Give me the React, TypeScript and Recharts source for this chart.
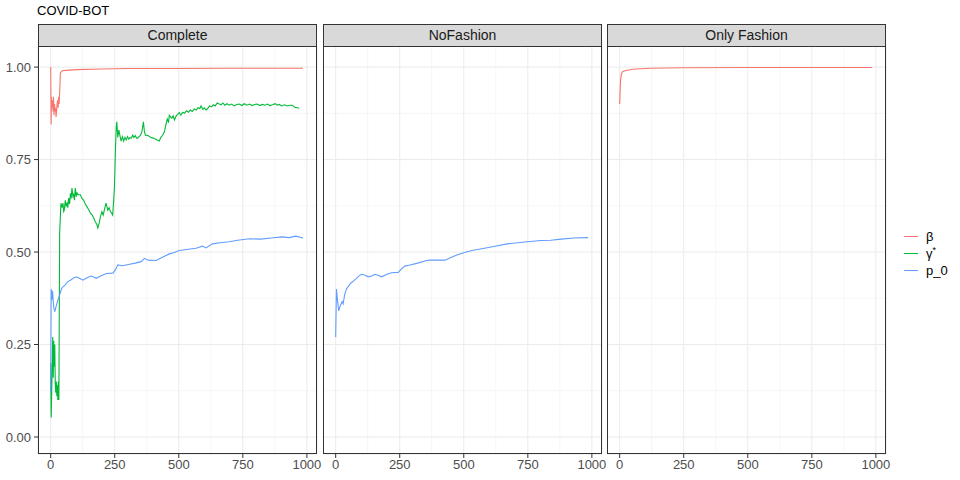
import { LineChart, Line, XAxis, YAxis, CartesianGrid } from "recharts";

// Complete panel
const completeBetaX = [0, 2, 3, 5, 7, 9, 11, 13, 15, 17, 19, 21, 23, 25, 27, 29, 31, 33, 35, 38, 45, 60, 100, 200, 300, 500, 700, 985];
const completeBetaY = [1.0, 0.845, 0.92, 0.89, 0.91, 0.88, 0.92, 0.87, 0.9, 0.88, 0.89, 0.865, 0.88, 0.9, 0.91, 0.89, 0.92, 0.9, 0.93, 0.985, 0.99, 0.991, 0.993, 0.995, 0.996, 0.996, 0.997, 0.997];

const completeGammaX = [0, 2, 4, 6, 8, 10, 12, 14, 16, 18, 20, 22, 24, 26, 28, 30, 32, 35, 38, 40, 44, 48, 51, 53, 57, 60, 64, 67, 70, 74, 77, 80, 83, 87, 90, 93, 96, 100, 103, 108, 116, 122, 129, 135, 142, 148, 155, 162, 168, 174, 180, 184, 190, 194, 200, 205, 210, 216, 223, 228, 233, 238, 242, 246, 249, 253, 256, 258, 262, 266, 270, 275, 280, 285, 290, 295, 300, 305, 310, 315, 320, 325, 330, 335, 339, 345, 350, 356, 362, 366, 370, 380, 390, 400, 410, 418, 424, 430, 436, 444, 450, 455, 460, 463, 468, 473, 478, 483, 490, 496, 502, 508, 515, 522, 530, 538, 545, 553, 560, 568, 575, 582, 587, 594, 600, 606, 613, 620, 628, 635, 642, 650, 658, 665, 672, 680, 688, 697, 706, 716, 726, 736, 746, 756, 766, 776, 786, 796, 806, 816, 826, 836, 846, 856, 866, 876, 886, 892, 902, 912, 923, 933, 943, 950, 956, 962, 970, 978, 985];
const completeGammaY = [0.2, 0.053, 0.12, 0.2, 0.27, 0.16, 0.26, 0.19, 0.25, 0.14, 0.12, 0.15, 0.11, 0.14, 0.1, 0.15, 0.1, 0.55, 0.6, 0.632, 0.62, 0.632, 0.61, 0.613, 0.64, 0.625, 0.632, 0.62, 0.646, 0.63, 0.659, 0.645, 0.673, 0.65, 0.655, 0.64, 0.673, 0.65, 0.66, 0.655, 0.655, 0.645, 0.64, 0.63, 0.622, 0.615, 0.605, 0.6, 0.592, 0.582, 0.575, 0.565, 0.58, 0.595, 0.609, 0.6, 0.615, 0.632, 0.613, 0.62, 0.61, 0.605, 0.6, 0.64, 0.677, 0.78, 0.84, 0.852, 0.81, 0.83, 0.816, 0.8, 0.812, 0.8, 0.81, 0.803, 0.812, 0.805, 0.81, 0.808, 0.816, 0.81, 0.815, 0.808, 0.808, 0.812, 0.815, 0.825, 0.852, 0.825, 0.816, 0.815, 0.81, 0.808, 0.805, 0.802, 0.8, 0.81, 0.815, 0.825, 0.845, 0.86, 0.85, 0.87, 0.865, 0.862, 0.868, 0.857, 0.868, 0.872, 0.877, 0.87, 0.878, 0.875, 0.882, 0.878, 0.884, 0.88, 0.887, 0.884, 0.89, 0.888, 0.895, 0.886, 0.89, 0.884, 0.888, 0.895, 0.893, 0.898, 0.895, 0.903, 0.9, 0.898, 0.903, 0.897, 0.901, 0.897, 0.9, 0.895, 0.899, 0.9, 0.896, 0.901, 0.897, 0.9, 0.896, 0.899, 0.9, 0.896, 0.899, 0.897, 0.9, 0.896, 0.898, 0.901, 0.897, 0.899, 0.895, 0.898, 0.895, 0.897, 0.897, 0.893, 0.891, 0.89, 0.889];

const completeP0X = [0, 2, 4, 7, 12, 16, 22, 28, 35, 42, 48, 55, 67, 80, 90, 100, 110, 126, 140, 158, 170, 178, 195, 217, 243, 255, 262, 280, 308, 330, 353, 366, 380, 412, 440, 463, 480, 502, 530, 567, 592, 606, 631, 660, 697, 730, 775, 820, 860, 903, 930, 957, 985];
const completeP0Y = [0.12, 0.4, 0.37, 0.395, 0.35, 0.339, 0.355, 0.37, 0.384, 0.4, 0.406, 0.41, 0.42, 0.425, 0.43, 0.433, 0.43, 0.424, 0.43, 0.435, 0.432, 0.429, 0.435, 0.442, 0.443, 0.455, 0.465, 0.463, 0.467, 0.47, 0.474, 0.483, 0.478, 0.477, 0.487, 0.495, 0.498, 0.504, 0.507, 0.51, 0.516, 0.511, 0.522, 0.525, 0.528, 0.532, 0.536, 0.535, 0.538, 0.541, 0.539, 0.543, 0.538];

// NoFashion panel
const noFashionP0X = [0, 3, 7, 12, 18, 25, 29, 35, 42, 50, 61, 70, 81, 90, 101, 115, 127, 140, 153, 165, 179, 200, 218, 244, 258, 270, 290, 320, 355, 368, 400, 427, 450, 473, 500, 532, 570, 617, 669, 710, 748, 800, 839, 880, 930, 985];
const noFashionP0Y = [0.27, 0.4, 0.37, 0.341, 0.355, 0.366, 0.36, 0.385, 0.4, 0.408, 0.417, 0.422, 0.429, 0.435, 0.44, 0.437, 0.433, 0.435, 0.44, 0.437, 0.433, 0.44, 0.444, 0.445, 0.455, 0.462, 0.465, 0.47, 0.477, 0.478, 0.478, 0.478, 0.485, 0.492, 0.498, 0.504, 0.509, 0.515, 0.522, 0.525, 0.528, 0.531, 0.532, 0.535, 0.538, 0.539];

// Only Fashion panel
const onlyFashionBetaX = [0, 3, 6, 10, 20, 50, 117, 250, 500, 985];
const onlyFashionBetaY = [0.9, 0.96, 0.978, 0.987, 0.99, 0.994, 0.997, 0.998, 0.999, 0.999];

const xMajor = [0, 250, 500, 750, 1000];
const xMinor = [125, 375, 625, 875];
const yMajor = [0, 0.25, 0.5, 0.75, 1];
const yMinor = [0.125, 0.375, 0.625, 0.875];

const xDomain = [-49.5, 1039.5];
const yDomain = [-0.046, 1.057];

const colBeta = "#F8766D";
const colGamma = "#00BA38";
const colP0 = "#619CFF";

const font = '"Liberation Sans", Arial, sans-serif';

const toPoints = (xs: number[], ys: number[]) => xs.map((x, i) => ({ x, y: ys[i] }));

type Series = { xs: number[]; ys: number[]; color: string; name: string };

const PLOT_TOP = 46;
const PLOT_H = 408;
const XAXIS_H = 26;
const YAXIS_W = 38;
const RIGHT_PAD = 16;

function Panel({ left, width, title, showY, series }: { left: number; width: number; title: string; showY: boolean; series: Series[] }) {
  const chartLeft = showY ? left - YAXIS_W : left;
  const chartW = (showY ? width + YAXIS_W : width) + RIGHT_PAD;
  return (
    <>
      <div
        style={{
          position: "absolute",
          left,
          top: 24,
          width,
          height: 23,
          boxSizing: "border-box",
          background: "#D9D9D9",
          border: "1px solid #333333",
          textAlign: "center",
          lineHeight: "21px",
          fontSize: 14,
          color: "#1A1A1A",
        }}
      >
        {title}
      </div>
      <div style={{ position: "absolute", left: chartLeft, top: PLOT_TOP }}>
        <LineChart width={chartW} height={PLOT_H + XAXIS_H} margin={{ top: 0, right: RIGHT_PAD, bottom: 0, left: 0 }}>
          <XAxis xAxisId="minor" type="number" dataKey="x" domain={xDomain} ticks={xMinor} allowDataOverflow hide />
          <YAxis yAxisId="minor" type="number" domain={yDomain} ticks={yMinor} allowDataOverflow hide />
          <CartesianGrid xAxisId="minor" yAxisId="minor" stroke="#F0F0F0" strokeWidth={0.6} />
          <CartesianGrid stroke="#EBEBEB" strokeWidth={1} />
          <XAxis
            type="number"
            dataKey="x"
            domain={xDomain}
            ticks={xMajor}
            interval={0}
            allowDataOverflow
            height={XAXIS_H}
            axisLine={false}
            tickSize={4}
            tickMargin={2}
            tickLine={{ stroke: "#333333" }}
            tick={{ fill: "#4D4D4D", fontSize: 13, fontFamily: font }}
          />
          <YAxis
            type="number"
            domain={yDomain}
            ticks={yMajor}
            interval={0}
            allowDataOverflow
            width={YAXIS_W}
            hide={!showY}
            axisLine={false}
            tickSize={4}
            tickMargin={3}
            tickLine={{ stroke: "#333333" }}
            tick={{ fill: "#4D4D4D", fontSize: 13, fontFamily: font }}
            tickFormatter={(v: number) => v.toFixed(2)}
          />
          {series.map((s) => (
            <Line
              key={s.name}
              data={toPoints(s.xs, s.ys)}
              dataKey="y"
              type="linear"
              stroke={s.color}
              strokeWidth={1.1}
              dot={false}
              activeDot={false}
              isAnimationActive={false}
            />
          ))}
        </LineChart>
      </div>
      <div
        style={{
          position: "absolute",
          left,
          top: PLOT_TOP,
          width,
          height: PLOT_H,
          boxSizing: "border-box",
          border: "1px solid #333333",
          pointerEvents: "none",
        }}
      />
    </>
  );
}

function LegendRow({ color, children }: { color: string; children: React.ReactNode }) {
  return (
    <div style={{ height: 17, display: "flex", alignItems: "center" }}>
      <div style={{ width: 14, height: 1.2, background: color, marginRight: 8 }} />
      <span style={{ fontSize: 13, color: "#000" }}>{children}</span>
    </div>
  );
}

export default function App() {
  return (
    <div style={{ position: "absolute", left: 0, top: 0, width: 960, height: 480, background: "#fff", fontFamily: font }}>
      <div style={{ position: "absolute", left: 37, top: 3, fontSize: 13, color: "#000" }}>COVID-BOT</div>
      <Panel
        left={38}
        width={279}
        title="Complete"
        showY
        series={[
          { xs: completeBetaX, ys: completeBetaY, color: colBeta, name: "beta" },
          { xs: completeGammaX, ys: completeGammaY, color: colGamma, name: "gamma" },
          { xs: completeP0X, ys: completeP0Y, color: colP0, name: "p0" },
        ]}
      />
      <Panel
        left={323}
        width={279}
        title="NoFashion"
        showY={false}
        series={[{ xs: noFashionP0X, ys: noFashionP0Y, color: colP0, name: "p0" }]}
      />
      <Panel
        left={607}
        width={279}
        title="Only Fashion"
        showY={false}
        series={[{ xs: onlyFashionBetaX, ys: onlyFashionBetaY, color: colBeta, name: "beta" }]}
      />
      <div style={{ position: "absolute", left: 904, top: 228 }}>
        <LegendRow color={colBeta}>β</LegendRow>
        <LegendRow color={colGamma}>
          γ<sup style={{ fontSize: 9 }}>*</sup>
        </LegendRow>
        <LegendRow color={colP0}>p_0</LegendRow>
      </div>
    </div>
  );
}
